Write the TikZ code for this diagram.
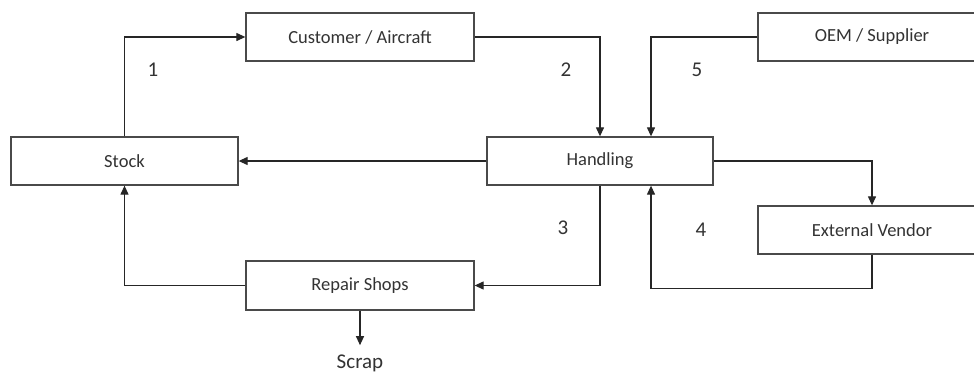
\documentclass[tikz,border=0pt]{standalone}
\usepackage{fontspec}
\setmainfont{Carlito}
\usetikzlibrary{arrows.meta}
\definecolor{txt}{HTML}{333333}
\definecolor{ln}{HTML}{262626}
\definecolor{bx}{HTML}{4A4A4A}
\tikzset{
  box/.style={draw=bx, line width=1.3pt, minimum width=228pt, minimum height=48pt, inner sep=0pt, text=txt, font=\fontsize{18.5}{20}\selectfont},
  arr/.style={draw=ln, line width=1.2pt, -{Triangle[length=9pt,width=8pt]}},
  num/.style={text=txt, font=\fontsize{21}{24}\selectfont, inner sep=0pt}
}
\begin{document}
\begin{tikzpicture}[x=1pt,y=-1pt]
\useasboundingbox (0,0) rectangle (974,372);
\clip (0,0) rectangle (974,372);
\fill[white] (0,0) rectangle (974,372);
\node[box] (cust) at (360,37) {Customer / Aircraft};
\node[box] (oem) at (872,37) {OEM / Supplier};
\node[box, minimum width=227pt] (stock) at (124.5,161) {Stock};
\node[box, minimum width=226pt] (hand) at (600,161) {Handling};
\node[box] (vend) at (872,230) {External Vendor};
\node[box, minimum height=49pt] (rep) at (360,285.5) {Repair Shops};
\node[num, anchor=base, inner ysep=9pt] (scrap) at (360,368) {Scrap};
\node[num] (n1) at (153,70) {1};
\node[num] (n2) at (566,70) {2};
\node[num] (n5) at (697,70) {5};
\node[num] (n3) at (563,228) {3};
\node[num] (n4) at (701,230) {4};
\coordinate (hin) at ([xshift=51pt]hand.north);
\coordinate (hout) at ([xshift=51pt]hand.south);
\coordinate (vturn) at ([yshift=-34pt]vend.south);
\draw[arr] (stock.north) |- (cust.west);
\draw[arr] (cust.east) -| (hand.north);
\draw[arr] (oem.west) -| (hin);
\draw[arr] (hand.west) -- (stock.east);
\draw[arr] (hand.east) -| (vend.north);
\draw[arr] (vend.south) -- (vturn) -| (hout);
\draw[arr] (hand.south) |- (rep.east);
\draw[arr] (rep.west) -| (stock.south);
\draw[arr] (rep.south) -- (rep.south |- scrap.north);
\end{tikzpicture}
\end{document}
